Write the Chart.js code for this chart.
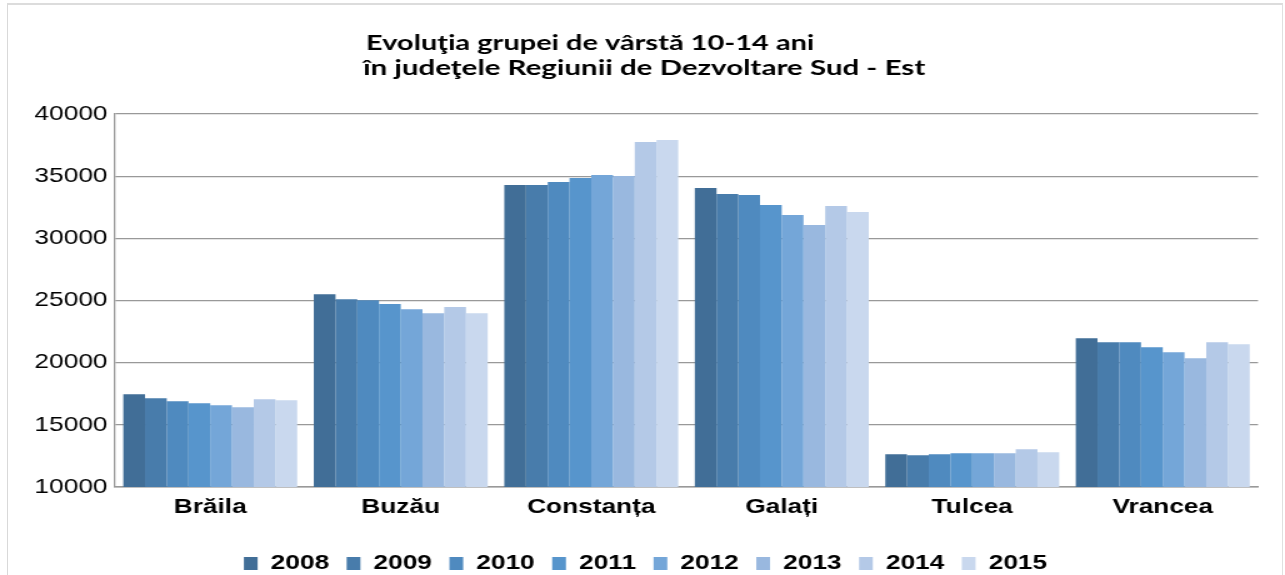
<!DOCTYPE html>
<html>
<head>
<meta charset="utf-8">
<script src="https://cdn.jsdelivr.net/npm/chart.js@4.4.1/dist/chart.umd.min.js"></script>
<style>
html,body{margin:0;padding:0;background:#fff;overflow:hidden;}
#wrap{position:relative;width:1285px;height:575px;overflow:hidden;background:#fff;}
#c{position:absolute;left:0;top:0;transform:scaleX(1.25);transform-origin:0 0;}
#frame{position:absolute;left:7px;top:3px;width:1274px;height:620px;border-top:2px solid #dcdcdc;border-left:1.5px solid #d9d9d9;border-right:1.5px solid #e0e0e0;pointer-events:none;}
</style>
</head>
<body>
<div id="wrap">
<canvas id="c" width="1028" height="575"></canvas>
<div id="frame"></div>
</div>
<script>
const titleLines = ['Evoluţia grupei de vârstă 10-14 ani', 'în judeţele Regiunii de Dezvoltare Sud - Est'];
const categories = ['Brăila', 'Buzău', 'Constanța', 'Galați', 'Tulcea', 'Vrancea'];
const years = ['2008', '2009', '2010', '2011', '2012', '2013', '2014', '2015'];
const yTicks = [10000, 15000, 20000, 25000, 30000, 35000, 40000];

const v2008 = [17460, 25510, 34290, 34040, 12630, 21970];
const v2009 = [17140, 25110, 34280, 33560, 12550, 21650];
const v2010 = [16900, 25030, 34530, 33480, 12630, 21650];
const v2011 = [16740, 24710, 34850, 32680, 12710, 21250];
const v2012 = [16580, 24300, 35090, 31870, 12710, 20840];
const v2013 = [16420, 23980, 35010, 31070, 12710, 20360];
const v2014 = [17060, 24470, 37750, 32600, 13030, 21650];
const v2015 = [16980, 23980, 37910, 32110, 12790, 21490];

const seriesValues = [v2008, v2009, v2010, v2011, v2012, v2013, v2014, v2015];
const seriesColors = ['#416E97', '#487CAB', '#4F8ABF', '#5795CC', '#74A6D8', '#99B8DF', '#B4C9E7', '#C9D8EE'];

const titlePlugin = {
  id: 'customTitle',
  afterDraw(chart) {
    const ctx = chart.ctx;
    ctx.save();
    ctx.fillStyle = '#000';
    ctx.font = 'bold 20px Lato, "Open Sans", sans-serif';
    ctx.textAlign = 'left';
    ctx.textBaseline = 'alphabetic';
    ctx.save();
    ctx.translate(292.8, 50);
    ctx.scale(1.16, 1);
    ctx.fillText(titleLines[0], 0, 0);
    ctx.restore();
    ctx.save();
    ctx.translate(290.4, 75);
    ctx.scale(1.18, 1);
    ctx.fillText(titleLines[1], 0, 0);
    ctx.restore();
    ctx.restore();
  }
};

const axisFont = '"Liberation Sans", Arial, sans-serif';

new Chart(document.getElementById('c'), {
  type: 'bar',
  data: {
    labels: categories,
    datasets: years.map((y, i) => ({
      label: y,
      data: seriesValues[i],
      backgroundColor: seriesColors[i],
      borderWidth: 0,
      barPercentage: 1.0,
      categoryPercentage: 0.913
    }))
  },
  options: {
    responsive: false,
    animation: false,
    devicePixelRatio: 1,
    layout: { padding: { left: 26.4, right: 21.6, top: 114, bottom: 0 } },
    plugins: {
      title: { display: false },
      tooltip: { enabled: false },
      legend: {
        position: 'bottom',
        maxHeight: 36,
        labels: {
          font: { family: axisFont, size: 21, weight: 'bold' },
          color: '#000',
          boxWidth: 11,
          boxHeight: 13,
          padding: 14
        }
      }
    },
    scales: {
      x: {
        grid: { display: false },
        border: { display: true, color: '#999999', width: 1.5 },
        ticks: {
          font: { family: axisFont, size: 21, weight: 'bold' },
          color: '#000',
          padding: 0,
          maxRotation: 0
        },
        afterFit(s) { s.height = 52; }
      },
      y: {
        min: 10000,
        max: 40000,
        afterBuildTicks(s) { s.ticks = yTicks.map(v => ({ value: v })); },
        grid: { color: '#999999', lineWidth: 1.3, drawTicks: false },
        border: { display: true, color: '#999999', width: 1.3 },
        ticks: {
          font: { family: axisFont, size: 21 },
          color: '#000',
          padding: 6,
          callback: v => String(v)
        },
        afterFit(s) { s.width = 65.6; }
      }
    }
  },
  plugins: [titlePlugin]
});
</script>
</body>
</html>
